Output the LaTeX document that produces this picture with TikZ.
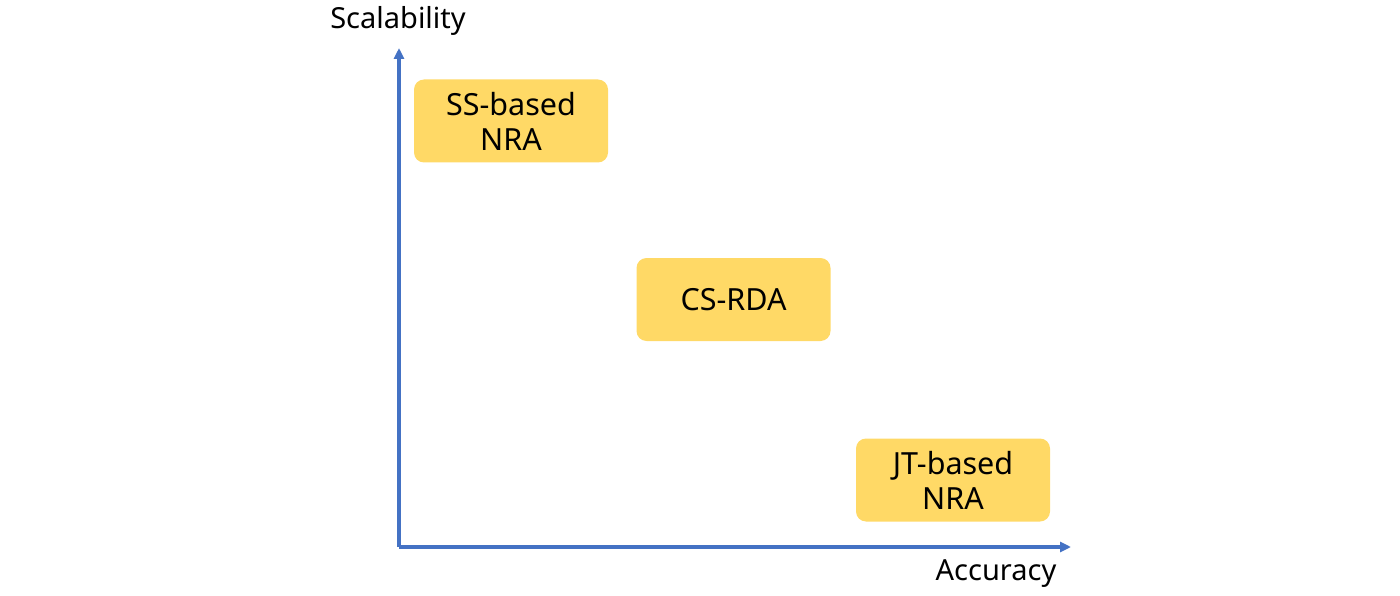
\documentclass[tikz,border=0pt]{standalone}
\usepackage{fontspec}
\setmainfont{Noto Sans}
\usetikzlibrary{arrows.meta}
\definecolor{axisblue}{HTML}{4472C4}
\definecolor{boxyellow}{HTML}{FFD966}
\tikzset{
  axis/.style={draw=axisblue, line width=3.3pt, -{Triangle[length=11pt,width=10pt]}},
  box/.style={fill=boxyellow, rounded corners=10pt, minimum width=194pt, minimum height=83pt, align=center, font=\fontsize{30.5}{35}\selectfont, inner sep=0pt},
  lbl/.style={font=\fontsize{29}{34}\selectfont, inner sep=0pt}
}
\begin{document}
\begin{tikzpicture}[x=1pt,y=1pt]
\useasboundingbox (0,0) rectangle (1400,-596);
\coordinate (o) at (399,-547);
\coordinate (ytip) at (399,-48);
\coordinate (xtip) at (1071,-547);
\draw[axis] (o) -- (ytip);
\draw[axis] (o) -- (xtip);
\node[lbl] (ylab) at (398,-21) {Scalability};
\node[lbl] (xlab) at (996,-574) {Accuracy};
\node[box] (ss) at (511,-121) {SS-based\\NRA};
\node[box] (cs) at (733.5,-299.5) {CS-RDA};
\node[box] (jt) at (953,-480) {JT-based\\NRA};
\end{tikzpicture}
\end{document}
